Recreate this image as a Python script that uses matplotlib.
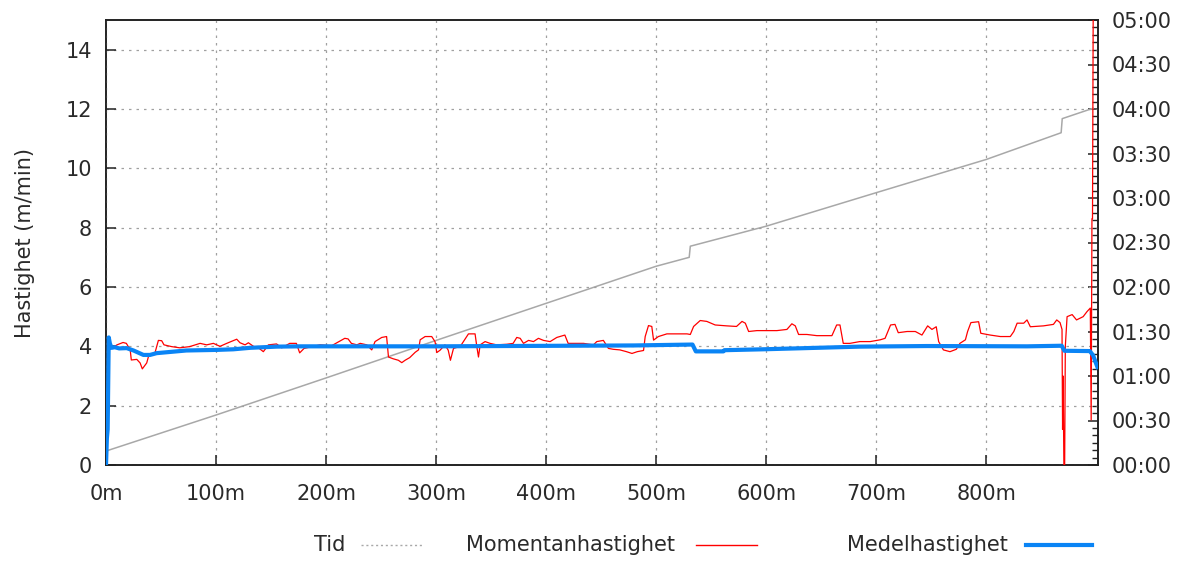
import matplotlib
matplotlib.use("Agg")
import matplotlib.pyplot as plt
from matplotlib.lines import Line2D
from matplotlib.ticker import MultipleLocator, FuncFormatter

# ---------------- data ----------------
# Tid (elapsed time, minutes) vs distance (m)
tid_dist = [0, 100, 200, 300, 400, 500, 530, 531, 600, 700, 800, 868, 869, 895, 897]
tid_min = [9.4, 33.7, 58.7, 84, 109, 134, 140, 147.5, 161, 183.6, 206, 224, 233.5, 240, 240.5]

# Momentanhastighet (m/min)
mom_dist = [3, 6, 10, 15.5, 18.5, 22, 23, 28, 31, 33, 37, 39, 44.5, 47.6, 50.6, 52.7,
            59.7, 67, 76, 85.5, 91.5, 97.6, 103.6, 109.7, 118.8, 121.8, 126.4, 129.4,
            134, 138.5, 143, 147.6, 155, 159.7, 167, 173, 176, 180, 194.5, 205, 217,
            220, 223, 228, 231, 237, 241.5, 244.5, 250.6, 255, 256.7, 261, 265.7, 268.8,
            271.8, 276, 281, 284, 285.5, 290, 296, 299, 300.6, 303.6, 308, 311, 313,
            315.8, 322, 329.4, 335.4, 337, 338.5, 340, 344.5, 349, 355, 364.3, 370,
            373.3, 376.4, 379.4, 384, 388.5, 393, 397.6, 403.6, 409.7, 417, 420, 428,
            434, 443, 446, 452, 456.6, 461, 467, 473, 478, 482.8, 488.5, 490, 493, 496,
            497.6, 502, 509.7, 518.8, 528, 531, 534, 540, 546, 553.6, 564, 573, 578,
            581, 584, 591.5, 600.6, 609.7, 618.8, 623.3, 626.4, 629.4, 637, 646, 659.7,
            664, 667, 670, 676, 685, 694.5, 703.6, 708, 713, 717, 720, 728, 735.5,
            741.5, 746.7, 750.6, 754.5, 756.7, 761, 767, 772.7, 776, 781, 783, 786,
            793, 795, 803.6, 812.7, 821.8, 825, 828, 834, 837, 840, 852, 861, 864, 867,
            868.8, 869.3, 869.8, 870.5, 871.2, 871.8, 873.4, 878, 882, 888, 891.5,
            894.5, 895.3, 896, 896.5, 897.2]
mom_val = [4.0, 3.95, 4.05, 4.13, 4.1, 3.88, 3.54, 3.56, 3.44, 3.24, 3.44, 3.71, 3.78,
           4.2, 4.19, 4.05, 3.99, 3.95, 3.99, 4.1, 4.05, 4.1, 4.0, 4.1, 4.24, 4.12, 4.05,
           4.12, 4.0, 3.95, 3.82, 4.05, 4.08, 3.95, 4.1, 4.1, 3.78, 3.93, 4.05, 4.02,
           4.27, 4.25, 4.1, 4.05, 4.1, 4.05, 3.88, 4.16, 4.3, 4.33, 3.64, 3.58, 3.53,
           3.45, 3.53, 3.62, 3.8, 3.88, 4.22, 4.33, 4.33, 4.16, 3.79, 3.87, 4.05, 3.87,
           3.53, 3.93, 4.0, 4.42, 4.42, 3.99, 3.64, 4.05, 4.16, 4.1, 4.05, 4.07, 4.1,
           4.3, 4.27, 4.1, 4.2, 4.16, 4.27, 4.2, 4.16, 4.3, 4.38, 4.1, 4.1, 4.1, 4.05,
           4.16, 4.2, 3.93, 3.9, 3.88, 3.82, 3.76, 3.82, 3.86, 4.33, 4.7, 4.67, 4.21,
           4.33, 4.42, 4.42, 4.42, 4.4, 4.67, 4.87, 4.84, 4.72, 4.69, 4.67, 4.84, 4.78,
           4.5, 4.53, 4.53, 4.53, 4.57, 4.76, 4.69, 4.4, 4.4, 4.36, 4.36, 4.72, 4.72,
           4.1, 4.1, 4.16, 4.16, 4.22, 4.27, 4.72, 4.74, 4.46, 4.5, 4.5, 4.38, 4.69,
           4.57, 4.66, 4.16, 3.88, 3.82, 3.9, 4.1, 4.22, 4.5, 4.8, 4.83, 4.44, 4.38,
           4.33, 4.33, 4.5, 4.78, 4.78, 4.89, 4.66, 4.69, 4.74, 4.89, 4.8, 4.57, 1.2,
           3.0, 0.0, 0.0, 4.0, 5.0, 5.07, 4.89, 5.0, 5.17, 5.29, 1.52, 8.3, 8.3, 16.0]

# Medelhastighet (m/min)
med_dist = [0, 0.8, 1.5, 2.5, 3.5, 5, 8, 12, 18.8, 25, 34, 40, 46, 55, 73, 100.6, 115.7,
            131, 155, 176, 300, 420, 480, 533, 536, 561, 562, 597, 646, 685, 746, 837,
            868.5, 871, 894, 897, 901]
med_val = [0, 0.9, 1.2, 4.3, 4.1, 3.95, 3.97, 3.93, 3.94, 3.86, 3.71, 3.71, 3.77, 3.8,
           3.86, 3.88, 3.9, 3.95, 3.99, 4.0, 4.0, 4.02, 4.03, 4.06, 3.83, 3.83, 3.87,
           3.9, 3.95, 3.99, 4.01, 4.0, 4.02, 3.85, 3.84, 3.7, 3.3]

x_ticks = [0, 100, 200, 300, 400, 500, 600, 700, 800]
y_ticks = [0, 2, 4, 6, 8, 10, 12, 14]
labels = ["Tid", "Momentanhastighet", "Medelhastighet"]

# ---------------- plot ----------------
plt.rcParams['font.family'] = ['DejaVu Sans']
plt.rcParams['font.size'] = 15
txt = '#2a2a2a'
W, H = 1181, 561

fig = plt.figure(figsize=(11.81, 5.61), dpi=100)
ax = fig.add_axes([106/W, 1-465/H, (1098-106)/W, (465-20)/H])
ax2 = ax.twinx()

ax.set_xlim(0, 901.5)
ax.set_ylim(0, 15)
ax2.set_ylim(0, 300)

gridkw = dict(color='#a0a0a0', linestyle=(0, (2, 4)), linewidth=0.9)
ax.set_xticks(x_ticks)
ax.set_xticklabels([f"{v}m" for v in x_ticks])
ax.set_yticks(y_ticks)
ax.grid(True, **gridkw)
ax.set_axisbelow(True)

ax2.yaxis.set_major_locator(MultipleLocator(30))
ax2.yaxis.set_minor_locator(MultipleLocator(5))
ax2.yaxis.set_major_formatter(FuncFormatter(lambda v, p: f"{int(v)//60:02d}:{int(v)%60:02d}"))

tid_color = '#a8a8a8'
mom_color = '#ff0000'
med_color = '#0a84f5'

ax2.plot(tid_dist, tid_min, color=tid_color, linewidth=1.1, zorder=2)
ax.set_zorder(ax2.get_zorder() + 1)
ax.patch.set_visible(False)
ax.plot(mom_dist, mom_val, color=mom_color, linewidth=0.9, zorder=3)
ax.plot(med_dist, med_val, color=med_color, linewidth=3.0, zorder=4)

for a in (ax, ax2):
    for s in a.spines.values():
        s.set_color('#222222')
        s.set_linewidth(1.2)

ax.tick_params(axis='x', direction='in', length=7, width=1.1, colors='#222222',
               labelcolor=txt, pad=14, top=False)
ax.tick_params(axis='y', direction='in', length=7, width=1.1, colors='#222222',
               labelcolor=txt, pad=10, right=False)
ax2.tick_params(axis='y', which='major', direction='in', length=7, width=1.1,
                colors='#222222', labelcolor=txt, pad=10)
ax2.tick_params(axis='y', which='minor', direction='in', length=4, width=1.0,
                colors='#222222')

ax.set_ylabel("Hastighet (m/min)", color=txt, labelpad=22)

# legend, gnuplot style: right-aligned text followed by the sample line
ly = 1 - 545/H
text_right = [345, 675, 1008]
samp = [(361, 424), (696, 757), (1026, 1092)]
styles = [dict(color=tid_color, linestyle=(0, (1.5, 2)), linewidth=1.0),
          dict(color=mom_color, linewidth=1.0),
          dict(color=med_color, linewidth=3.0)]
for lab, xr, (s0, s1), st in zip(labels, text_right, samp, styles):
    fig.text(xr/W, ly, lab, ha='right', va='center', color=txt)
    fig.add_artist(Line2D([s0/W, s1/W], [ly, ly], transform=fig.transFigure, **st))

fig.savefig("out.png", dpi=100)
